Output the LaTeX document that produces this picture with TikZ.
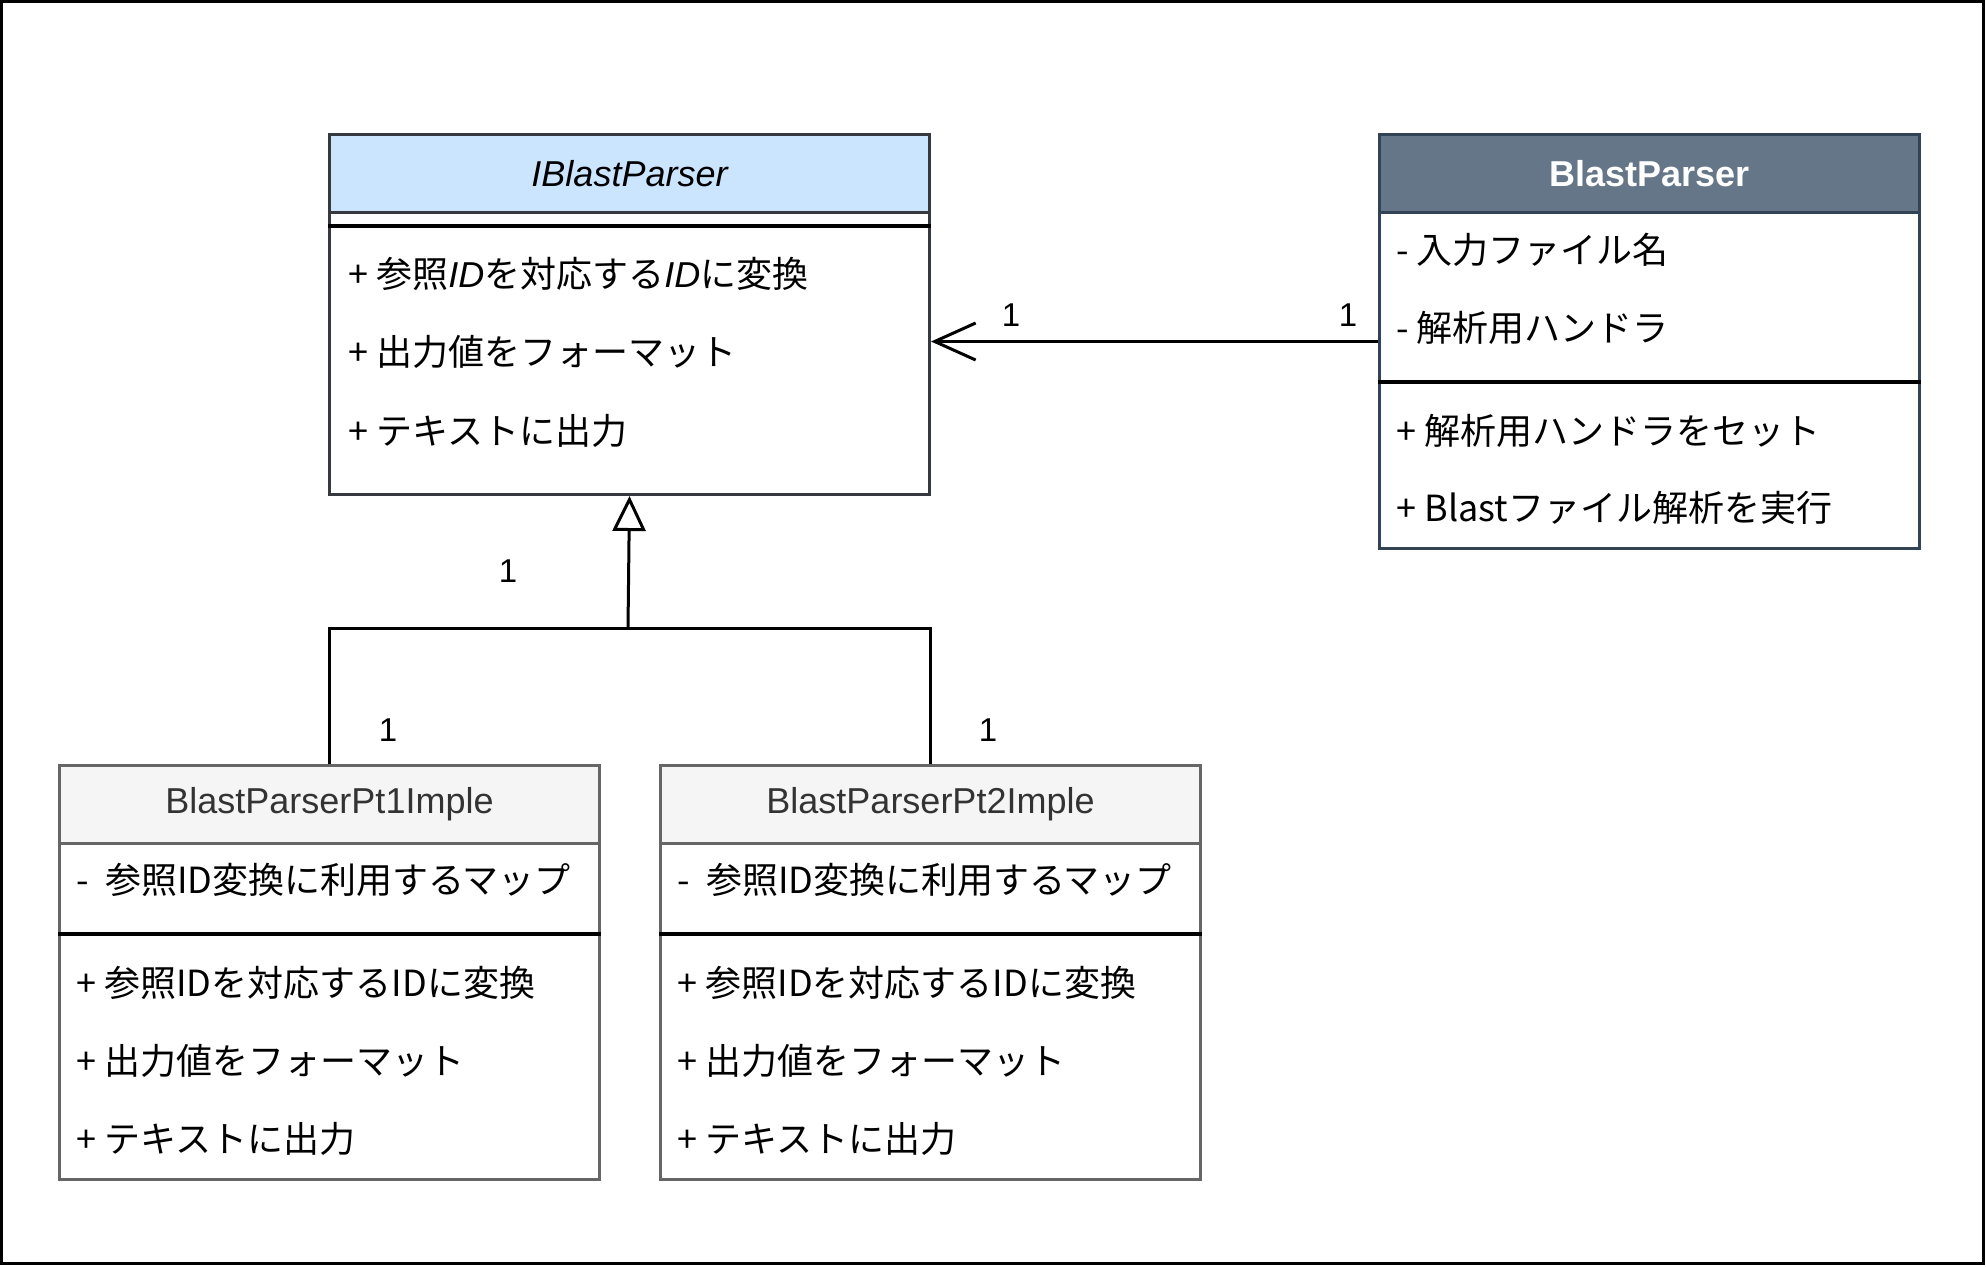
\documentclass[tikz,border=0pt]{standalone}
\usepackage{fontspec}
\setmainfont{Liberation Sans}
\newfontfamily\jpfont{Noto Sans CJK JP}
\newfontfamily\latfont{Liberation Sans}
\usepackage{tikz}
\usetikzlibrary{arrows.meta}
\usetikzlibrary{positioning}

\definecolor{ibfill}{HTML}{CCE5FF}
\definecolor{ibline}{HTML}{36393D}
\definecolor{bpfill}{HTML}{647687}
\definecolor{bpline}{HTML}{314354}
\definecolor{ptfill}{HTML}{F5F5F5}
\definecolor{ptline}{HTML}{666666}
\definecolor{pttext}{HTML}{333333}

\tikzset{
  classbox/.style={draw, line width=1.5pt, fill=white, anchor=north west, inner sep=0pt},
  classtitle/.style={font={\latfont\fontsize{18pt}{22pt}\selectfont}},
  member/.style={anchor=west, inner sep=0pt, font={\jpfont\fontsize{18pt}{22pt}\selectfont}},
  mult/.style={inner sep=0pt, font={\latfont\fontsize{16.5pt}{20pt}\selectfont}},
  divline/.style={draw=black, line width=1.75pt},
  link/.style={draw=black, line width=1.5pt},
}

\begin{document}
\begin{tikzpicture}[x=0.5pt,y=-0.5pt]
	\useasboundingbox (0,0) rectangle (1986,1266);
	\draw[line width=1.5pt] (1.5,1.5) rectangle (1983,1263);

	% IBlastParser
	\node[classbox, draw=ibline, minimum width=300pt, minimum height=180pt] (ib) at (328,133) {};
	\node[classbox, classtitle, draw=ibline, fill=ibfill, minimum width=300pt, minimum height=39pt] (ibhead) at (328,133) {\itshape IBlastParser};
	\draw[divline] ([yshift=-6pt]ibhead.south west) -- ([yshift=-6pt]ibhead.south east);
	\node[member] (ibm1) at (348,274) {+ 参照{\latfont\itshape ID}を対応する{\latfont\itshape ID}に変換};
	\node[member] (ibm2) at (348,352) {+ 出力値をフォーマット};
	\node[member] (ibm3) at (348,431) {+ テキストに出力};

	% BlastParser
	\node[classbox, draw=bpline, minimum width=270pt, minimum height=207pt] (bp) at (1378,133) {};
	\node[classbox, classtitle, draw=bpline, fill=bpfill, text=white, minimum width=270pt, minimum height=39pt] (bphead) at (1378,133) {\bfseries BlastParser};
	\node[member] (bpa1) at (1396,250) {- 入力ファイル名};
	\node[member] (bpa2) at (1396,328) {- 解析用ハンドラ};
	\draw[divline] ([yshift=-84pt]bphead.south west) -- ([yshift=-84pt]bphead.south east);
	\node[member] (bpm1) at (1396,431) {+ 解析用ハンドラをセット};
	\node[member] (bpm2) at (1396,508) {+ Blastファイル解析を実行};

	% BlastParserPt1Imple
	\node[classbox, draw=ptline, minimum width=270pt, minimum height=207pt] (pt1) at (58,764) {};
	\node[classbox, classtitle, draw=ptline, fill=ptfill, text=pttext, minimum width=270pt, minimum height=39pt] (pt1head) at (58,764) {BlastParserPt1Imple};
	\node[member] (pt1a1) at (76,880) {-\ \ 参照ID変換に利用するマップ};
	\draw[divline] ([yshift=-44.5pt]pt1head.south west) -- ([yshift=-44.5pt]pt1head.south east);
	\node[member] (pt1m1) at (76,983) {+ 参照IDを対応するIDに変換};
	\node[member] (pt1m2) at (76,1061) {+ 出力値をフォーマット};
	\node[member] (pt1m3) at (76,1139) {+ テキストに出力};

	% BlastParserPt2Imple
	\node[classbox, draw=ptline, minimum width=270pt, minimum height=207pt] (pt2) at (659,764) {};
	\node[classbox, classtitle, draw=ptline, fill=ptfill, text=pttext, minimum width=270pt, minimum height=39pt] (pt2head) at (659,764) {BlastParserPt2Imple};
	\node[member] (pt2a1) at (677,880) {-\ \ 参照ID変換に利用するマップ};
	\draw[divline] ([yshift=-44.5pt]pt2head.south west) -- ([yshift=-44.5pt]pt2head.south east);
	\node[member] (pt2m1) at (677,983) {+ 参照IDを対応するIDに変換};
	\node[member] (pt2m2) at (677,1061) {+ 出力値をフォーマット};
	\node[member] (pt2m3) at (677,1139) {+ テキストに出力};

	% connectors
	\draw[link, -{Straight Barb[length=20.5pt, width=18.5pt]}] (bp.west) -- (bp.west -| ib.east);
	\coordinate (fork) at (628,628);
	\draw[link] (pt1.north) |- (fork) -| (pt2.north);
	\draw[link, -{Triangle[open, fill=white, length=17.5pt, width=16.5pt]}] (fork) -- (ib.south);

	% multiplicities
	\node[mult] (mib) at (1011,315) {1};
	\node[mult] (mbp) at (1348,315) {1};
	\node[mult] (mup) at (508,571) {1};
	\node[mult] (mpt1) at (388,730) {1};
	\node[mult] (mpt2) at (988,730) {1};
\end{tikzpicture}
\end{document}
